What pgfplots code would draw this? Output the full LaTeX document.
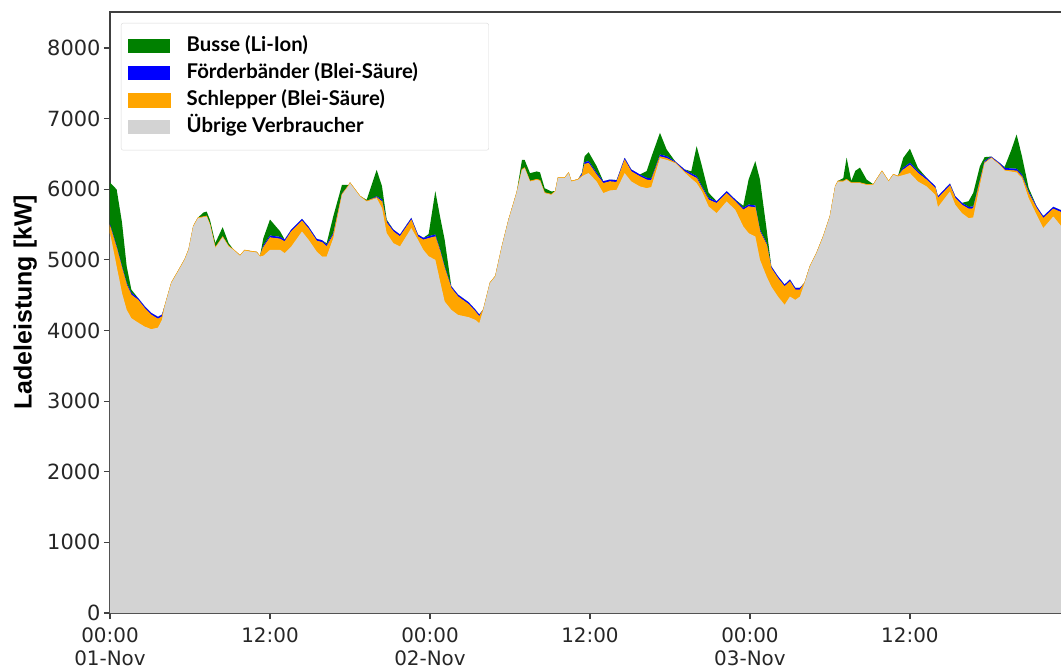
\documentclass[border=0pt]{standalone}
\usepackage{fontspec}
\setmainfont{DejaVu Sans}
\newfontfamily\legfont{Lato}
\newfontfamily\labfont{Liberation Sans}
\usepackage{pgfplots}
\usepackage{pgfplotstable}
\pgfplotsset{compat=1.18}
\definecolor{mgreen}{RGB}{0,128,0}
\definecolor{mblue}{RGB}{0,0,255}
\definecolor{morange}{RGB}{255,165,0}
\definecolor{mgray}{RGB}{211,211,211}
\definecolor{spine}{RGB}{64,64,64}

\pgfplotstableread{
h gray orange blue green
0.0 5380 95 30 590
0.5 4905 259 30 803
0.9 4528 352 30 619
1.25 4292 353 30 235
1.6 4174 329 30 47
2.1 4112 320 30 0
2.6 4055 259 30 0
3.1 4018 201 30 0
3.6 4040 123 30 0
3.9 4150 46 30 0
4.1 4339 8 0 0
4.6 4670 8 0 0
5.1 4834 8 0 0
5.6 5000 8 0 0
5.9 5142 8 0 0
6.25 5472 8 0 0
6.6 5590 8 0 0
7.0 5604 8 0 58
7.25 5614 8 0 62
7.5 5496 8 0 62
7.9 5170 8 0 62
8.45 5321 8 0 134
8.9 5189 8 0 39
9.25 5142 8 0 0
9.75 5057 8 0 0
10.1 5132 8 0 0
10.5 5118 8 0 0
11.0 5104 8 0 0
11.25 5047 8 0 0
11.5 5057 118 30 100
12.0 5142 173 30 226
12.75 5142 154 30 80
13.1 5095 163 30 0
13.6 5189 211 30 0
14.4 5401 150 30 0
14.9 5283 155 30 0
15.5 5118 150 30 0
15.9 5047 201 30 0
16.25 5047 140 30 18
16.75 5307 46 30 236
17.4 5921 8 11 122
17.9 6050 8 0 2
18.0 6086 8 0 0
18.75 5897 8 0 0
19.25 5826 8 0 16
20.0 5874 10 16 375
20.4 5732 93 30 189
20.75 5378 147 30 16
21.25 5236 164 30 0
21.75 5189 140 30 0
22.6 5449 116 30 0
23.1 5283 46 30 0
23.5 5142 140 30 0
23.9 5050 255 30 30
24.4 5000 329 30 614
24.75 4700 425 30 464
25.1 4410 470 30 378
25.6 4292 305 30 0
26.1 4221 258 30 0
26.9 4188 182 30 0
27.4 4150 117 30 0
27.7 4103 93 30 0
28.0 4292 8 0 0
28.5 4670 8 0 0
28.9 4763 8 0 0
29.4 5189 8 0 0
29.9 5566 8 0 0
30.5 5945 8 0 0
30.9 6275 8 0 133
31.1 6298 8 0 110
31.5 6109 8 0 111
32.0 6133 8 0 111
32.25 6120 8 0 112
32.6 5945 8 0 62
33.1 5921 8 0 39
33.4 5968 8 0 0
33.6 6157 8 0 0
34.1 6157 8 0 0
34.4 6228 8 0 0
34.6 6109 8 0 0
35.1 6133 8 0 0
35.4 6180 15 30 10
35.6 6204 151 30 83
35.9 6228 140 30 127
36.5 6109 94 30 94
37.0 5945 139 30 0
37.5 5982 126 30 0
38.0 5991 108 30 0
38.6 6228 187 30 0
39.1 6109 141 30 0
39.75 6039 140 30 0
40.25 6015 117 30 95
40.6 6030 95 30 300
41.25 6440 22 30 307
41.75 6416 22 30 95
42.4 6369 8 16 0
43.1 6237 13 30 0
43.6 6150 45 30 30
44.0 6086 69 30 425
44.4 5968 46 30 283
44.9 5755 94 30 71
45.5 5661 140 30 0
46.25 5826 117 30 0
46.9 5708 117 30 0
47.5 5472 235 30 28
47.9 5378 376 30 354
48.4 5330 410 30 628
48.75 5000 400 30 708
49.25 4763 448 30 189
49.6 4622 258 30 0
50.1 4480 258 30 0
50.6 4363 258 30 0
51.0 4480 212 30 0
51.4 4433 141 30 0
51.75 4480 95 30 0
52.1 4670 8 0 0
52.5 4905 8 0 0
53.0 5095 8 0 0
53.5 5330 8 0 0
54.0 5614 8 0 0
54.4 6039 8 0 0
54.6 6109 8 0 0
55.0 6109 8 0 41
55.25 6133 8 0 307
55.6 6086 8 0 23
55.9 6086 8 0 166
56.25 6086 8 0 212
56.75 6062 8 0 68
57.25 6062 8 0 0
57.9 6252 8 0 0
58.4 6109 8 0 0
58.75 6204 8 0 0
59.1 6180 8 0 0
59.5 6200 75 30 140
60.0 6228 116 30 199
60.6 6109 118 30 46
61.25 6039 93 30 0
61.9 5921 93 30 0
62.1 5746 126 30 0
63.0 5968 83 30 0
63.4 5779 93 30 0
63.9 5661 116 30 0
64.4 5590 131 30 80
64.75 5600 125 30 195
65.25 6062 46 30 189
65.6 6369 8 23 55
66.1 6440 8 15 0
66.75 6340 8 21 0
67.1 6265 8 30 12
67.6 6250 15 30 260
68.0 6237 23 30 486
68.4 6157 22 30 259
68.9 5874 69 30 47
69.5 5637 93 30 0
70.0 5449 140 30 0
70.75 5614 107 30 0
71.33 5481 193 30 0
}\data

\begin{document}
\begin{tikzpicture}
\begin{axis}[
  width=951bp, height=601bp, scale only axis,
  xmin=0, xmax=71.33, ymin=0, ymax=8510,
  stack plots=y,
  clip=false,
  axis line style={draw=none},
  tick align=outside,
  xtick pos=bottom, ytick pos=left,
  major tick length=6bp,
  tick style={spine, line width=1.2bp},
  xtick={0,12,24,36,48,60},
  xticklabels={{00:00\\01-Nov},{12:00},{00:00\\02-Nov},{12:00},{00:00\\03-Nov},{12:00}},
  xticklabel style={align=center, anchor=north, yshift=-5bp, font=\fontsize{20}{23}\selectfont, text=black!85},
  ytick={0,1000,...,8000},
  yticklabel style={font=\fontsize{21}{25}\selectfont, text=black!85},
  /pgf/number format/.cd, 1000 sep={}, assume math mode=true, /pgfplots/.cd,
  ylabel={Ladeleistung [kW]},
  every axis y label/.style={at={([xshift=-100bp]axis description cs:0,0.517)}, rotate=90, anchor=north,
    font=\labfont\bfseries\fontsize{25}{29}\selectfont},
  legend style={at={(axis description cs:0,1)}, anchor=north west, xshift=11bp, yshift=-11bp,
    draw=black!15, fill=white, rounded corners=2bp, font=\legfont\bfseries\fontsize{20.4}{24}\selectfont,
    inner xsep=7bp, inner ysep=13bp, row sep=7bp, column sep=16bp,
    nodes={text height=15bp, text depth=5bp, inner xsep=0bp, inner ysep=0bp}},
  legend cell align=left,
  reverse legend,
  legend image code/.code={\fill[#1, rounded corners=0pt] (0bp,-7bp) rectangle (42bp,7bp);},
]
\addplot[fill=mgray, draw=none] table[x=h, y=gray] {\data} \closedcycle;
\addlegendentry{Übrige Verbraucher}
\addplot[fill=morange, draw=morange, line width=0.5bp] table[x=h, y=orange] {\data} \closedcycle;
\addlegendentry{Schlepper (Blei-Säure)}
\addplot[fill=mblue, draw=none] table[x=h, y=blue] {\data} \closedcycle;
\addlegendentry{Förderbänder (Blei-Säure)}
\addplot[fill=mgreen, draw=none] table[x=h, y=green] {\data} \closedcycle;
\addlegendentry{\makebox[295bp][l]{Busse (Li-Ion)}}
\draw[spine, line width=2bp] (rel axis cs:1,1) -- (rel axis cs:0,1) -- (rel axis cs:0,0) -- (rel axis cs:1,0);
\end{axis}
\pgfresetboundingbox
\path ([xshift=-110bp,yshift=-55bp]current axis.south west) rectangle ([yshift=12bp]current axis.north east);
\end{tikzpicture}
\end{document}
